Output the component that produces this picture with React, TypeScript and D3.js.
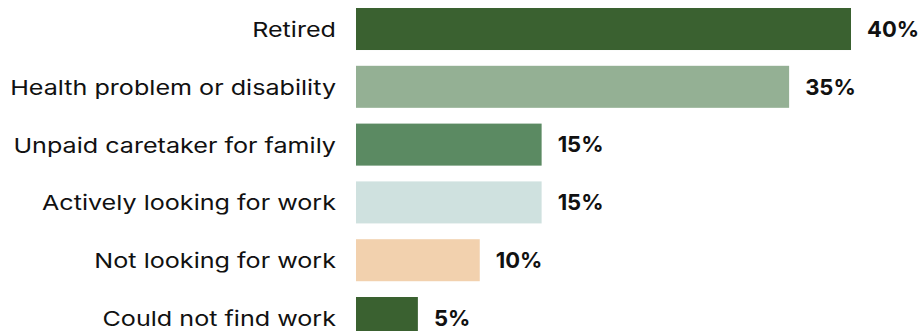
import * as d3 from "d3"

const categories = [
  "Retired",
  "Health problem or disability",
  "Unpaid caretaker for family",
  "Actively looking for work",
  "Not looking for work",
  "Could not find work",
]
const values = [40, 35, 15, 15, 10, 5]
const colors = ["#3a6130", "#94b094", "#5b8a62", "#cfe1df", "#f2d1ae", "#3a6130"]

const width = 924
const height = 331
const marginLeft = 356
const marginTop = 8

export default function App() {
  const step = 57.8
  const y = d3
    .scaleBand()
    .domain(categories)
    .range([marginTop - step * 0.1365, marginTop - step * 0.1365 + step * categories.length])
    .paddingInner(0.273)
    .paddingOuter(0.1365)

  const x = d3.scaleLinear().domain([0, 40]).range([marginLeft, marginLeft + 495])

  return (
    <svg
      width={width}
      height={height}
      style={{ position: "absolute", left: 0, top: 0, fontFamily: "Inter, sans-serif" }}
    >
      {categories.map((c, i) => {
        const yy = y(c)!
        const cy = yy + y.bandwidth() / 2
        return (
          <g key={c}>
            <rect
              x={x(0)}
              y={yy}
              width={x(values[i]) - x(0)}
              height={y.bandwidth()}
              fill={colors[i]}
            />
            {/* category labels are drawn wider than the font's natural width */}
            <g transform={`translate(${x(0) - 20},${cy + 0.8}) scale(1.22,1)`}>
              <text dy="0.35em" textAnchor="end" fontSize={20.6} fill="#111">
                {c}
              </text>
            </g>
            <text
              x={x(values[i]) + 16}
              y={cy}
              dy="0.35em"
              fontSize={22}
              fontWeight={700}
              fill="#111"
            >
              {values[i]}%
            </text>
          </g>
        )
      })}
    </svg>
  )
}
